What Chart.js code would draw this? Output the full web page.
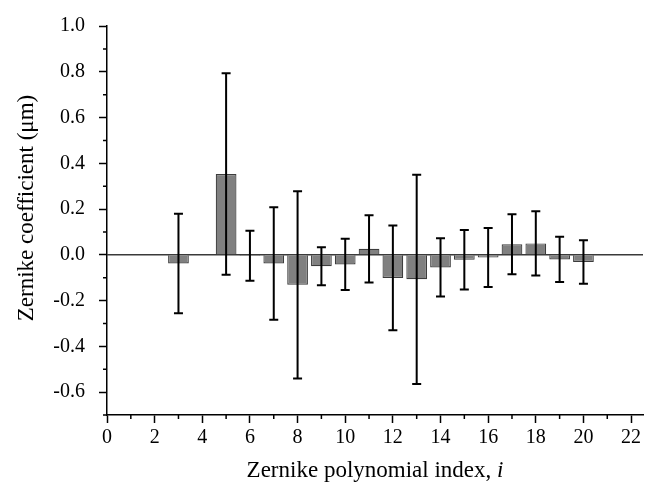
<!DOCTYPE html>
<html>
<head>
<meta charset="utf-8">
<script src="https://cdn.jsdelivr.net/npm/chart.js@4.4.1/dist/chart.umd.min.js"></script>
<style>
    body { margin: 0; background: #ffffff; }
    canvas { display: block; }
</style>
</head>
<body>
<canvas id="zernikeChart" width="656" height="490"></canvas>
<script>
// indice do polinomio de Zernike (o 4 nao aparece no grafico)
const indices = [3, 5, 6, 7, 8, 9, 10, 11, 12, 13, 14, 15, 16, 17, 18, 19, 20];
// coeficiente medio (um)
const coeficientes = [-0.038, 0.353, -0.004, -0.038, -0.131, -0.050, -0.042, 0.026, -0.101,
    -0.107, -0.055, -0.022, -0.012, 0.046, 0.050, -0.020, -0.031];
// desvio (barra de erro, +/-)
const desvios = [0.217, 0.440, 0.109, 0.246, 0.409, 0.083, 0.112, 0.147, 0.229,
    0.457, 0.127, 0.130, 0.129, 0.131, 0.140, 0.099, 0.095];

const fonteSerif = '"Liberation Serif", "Times New Roman", serif';
const corEixo = '#000000';

function ehPar(v) {
    return Math.round(v) % 2 === 0;
}

function ehMaiorY(v) {
    return Math.round(v * 10) % 2 === 0;
}

// linha do zero, barras de erro, ticks menores e titulos dos eixos
const extrasPlugin = {
    id: 'extras',
    beforeDatasetsDraw(chart) {
        const ctx = chart.ctx;
        const area = chart.chartArea;
        const y0 = chart.scales.y.getPixelForValue(0);
        ctx.save();
        ctx.strokeStyle = '#3a3a3a';
        ctx.lineWidth = 1.5;
        ctx.beginPath();
        ctx.moveTo(area.left, y0);
        ctx.lineTo(area.right, y0);
        ctx.stroke();
        ctx.restore();
    },
    afterDatasetsDraw(chart) {
        const ctx = chart.ctx;
        const xs = chart.scales.x;
        const ys = chart.scales.y;
        ctx.save();
        ctx.strokeStyle = '#000000';
        ctx.lineWidth = 2;
        indices.forEach((idx, i) => {
            const px = xs.getPixelForValue(idx);
            const topo = ys.getPixelForValue(coeficientes[i] + desvios[i]);
            const base = ys.getPixelForValue(coeficientes[i] - desvios[i]);
            ctx.beginPath();
            ctx.moveTo(px, topo);
            ctx.lineTo(px, base);
            ctx.moveTo(px - 4.5, topo);
            ctx.lineTo(px + 4.5, topo);
            ctx.moveTo(px - 4.5, base);
            ctx.lineTo(px + 4.5, base);
            ctx.stroke();
        });
        ctx.restore();
    },
    afterDraw(chart) {
        const ctx = chart.ctx;
        const area = chart.chartArea;
        const xs = chart.scales.x;
        const ys = chart.scales.y;
        ctx.save();
        ctx.strokeStyle = corEixo;
        ctx.lineWidth = 1.5;
        ctx.beginPath();
        // ticks menores
        xs.ticks.forEach(t => {
            if (!ehPar(t.value)) {
                const px = xs.getPixelForValue(t.value);
                ctx.moveTo(px, area.bottom);
                ctx.lineTo(px, area.bottom + 4);
            }
        });
        ys.ticks.forEach(t => {
            if (!ehMaiorY(t.value)) {
                const py = ys.getPixelForValue(t.value);
                ctx.moveTo(area.left, py);
                ctx.lineTo(area.left - 4, py);
            }
        });
        ctx.stroke();

        // titulo do eixo x com o "i" em italico
        ctx.fillStyle = '#000000';
        ctx.textBaseline = 'middle';
        ctx.textAlign = 'left';
        const parte1 = 'Zernike polynomial index, ';
        const parte2 = 'i';
        ctx.font = '23px ' + fonteSerif;
        const w1 = ctx.measureText(parte1).width;
        ctx.font = 'italic 23px ' + fonteSerif;
        const w2 = ctx.measureText(parte2).width;
        const inicio = (area.left + area.right) / 2 - (w1 + w2) / 2;
        ctx.font = '23px ' + fonteSerif;
        ctx.fillText(parte1, inicio, 471);
        ctx.font = 'italic 23px ' + fonteSerif;
        ctx.fillText(parte2, inicio + w1, 471);

        // titulo do eixo y
        ctx.translate(27, 208);
        ctx.rotate(-Math.PI / 2);
        ctx.textAlign = 'center';
        ctx.font = '23px ' + fonteSerif;
        ctx.fillText('Zernike coefficient (\u03bcm)', 0, 0);
        ctx.restore();
    }
};

const ctx = document.getElementById('zernikeChart').getContext('2d');

const zernikeChart = new Chart(ctx, {
    type: 'bar',
    data: {
        datasets: [{
            data: indices.map((idx, i) => ({ x: idx, y: coeficientes[i] })),
            backgroundColor: '#808080',
            borderColor: '#3c3c3c',
            borderWidth: 1.2,
            categoryPercentage: 1,
            barPercentage: 0.87
        }]
    },
    options: {
        responsive: false,
        animation: false,
        devicePixelRatio: 1,
        layout: {
            padding: { top: 16, right: 13, left: 0, bottom: 0 }
        },
        plugins: {
            legend: { display: false },
            tooltip: { enabled: false }
        },
        scales: {
            x: {
                type: 'linear',
                min: 0,
                max: 22.5,
                offset: false,
                afterFit: scale => { scale.height = 75; },
                border: { display: true, color: corEixo, width: 1.5 },
                grid: {
                    offset: false,
                    drawOnChartArea: false,
                    drawTicks: true,
                    tickLength: 8,
                    tickWidth: 1.5,
                    tickColor: c => (c.tick && !ehPar(c.tick.value)) ? 'rgba(0,0,0,0)' : corEixo
                },
                ticks: {
                    stepSize: 1,
                    includeBounds: false,
                    autoSkip: false,
                    maxRotation: 0,
                    padding: 3,
                    color: '#000000',
                    font: { family: fonteSerif, size: 20 },
                    callback: v => ehPar(v) ? String(Math.round(v)) : ''
                }
            },
            y: {
                min: -0.7,
                max: 1.0,
                afterFit: scale => { scale.width = 107; },
                border: { display: true, color: corEixo, width: 1.5 },
                grid: {
                    drawOnChartArea: false,
                    drawTicks: true,
                    tickLength: 8,
                    tickWidth: 1.5,
                    tickColor: c => (c.tick && !ehMaiorY(c.tick.value)) ? 'rgba(0,0,0,0)' : corEixo
                },
                ticks: {
                    stepSize: 0.1,
                    autoSkip: false,
                    padding: 14,
                    color: '#000000',
                    font: { family: fonteSerif, size: 20 },
                    callback: v => ehMaiorY(v) ? (Math.round(v * 10) / 10).toFixed(1) : ''
                }
            }
        }
    },
    plugins: [extrasPlugin]
});
</script>
</body>
</html>
